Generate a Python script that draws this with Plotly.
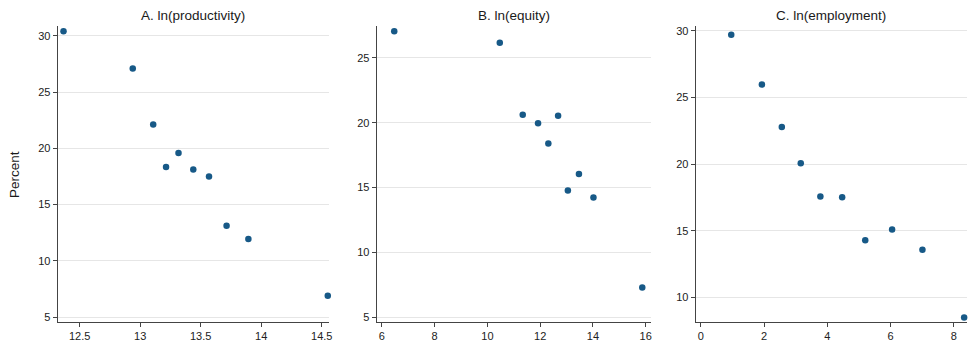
import plotly.graph_objects as go

prod_x = [12.367, 12.939, 13.108, 13.214, 13.317, 13.439, 13.569, 13.714, 13.894, 14.55]
prod_y = [30.41, 27.09, 22.12, 18.35, 19.59, 18.11, 17.50, 13.12, 11.94, 6.91]

eq_x = [6.47, 10.47, 11.34, 11.92, 12.31, 12.68, 13.05, 13.47, 14.02, 15.87]
eq_y = [27.06, 26.17, 20.61, 19.95, 18.39, 20.54, 14.77, 16.05, 14.23, 7.30]

emp_x = [0.96, 1.93, 2.56, 3.16, 3.78, 4.47, 5.20, 6.05, 7.01, 8.33]
emp_y = [29.70, 25.97, 22.78, 20.07, 17.56, 17.51, 14.28, 15.10, 13.58, 8.49]

titles = ["A. ln(productivity)", "B. ln(equity)", "C. ln(employment)"]
y_title = "Percent"

W, H = 970, 346
color = "#175987"

panels = [
    dict(x=prod_x, y=prod_y, dom=(58, 330), xr=(12.32, 14.56), yr=(4.56, 30.88),
         xt=[12.5, 13, 13.5, 14, 14.5], yt=[5, 10, 15, 20, 25, 30]),
    dict(x=eq_x, y=eq_y, dom=(378, 653), xr=(5.81, 16.2), yr=(4.62, 27.47),
         xt=[6, 8, 10, 12, 14, 16], yt=[5, 10, 15, 20, 25]),
    dict(x=emp_x, y=emp_y, dom=(698, 970), xr=(-0.16, 8.42), yr=(8.14, 30.37),
         xt=[0, 2, 4, 6, 8], yt=[10, 15, 20, 25, 30]),
]

ydom = [(H - 323) / H, (H - 25) / H]

fig = go.Figure()
layout = {}
annotations = []
for i, p in enumerate(panels):
    n = "" if i == 0 else str(i + 1)
    fig.add_trace(go.Scatter(
        x=p["x"], y=p["y"], mode="markers",
        marker=dict(color=color, size=6.5),
        xaxis="x" + n, yaxis="y" + n, showlegend=False, cliponaxis=False,
    ))
    common = dict(showline=True, linecolor="#444444", linewidth=1.3,
                  ticks="outside", ticklen=4, tickcolor="#444444",
                  tickfont=dict(family="Liberation Sans, Arial", size=11, color="#222222"),
                  zeroline=False)
    layout["xaxis" + n] = dict(domain=[p["dom"][0] / W, p["dom"][1] / W],
                               range=list(p["xr"]), tickvals=p["xt"],
                               showgrid=False, anchor="y" + n, **common)
    layout["yaxis" + n] = dict(domain=ydom, range=list(p["yr"]), tickvals=p["yt"],
                               showgrid=True, gridcolor="#e6e6e6", gridwidth=1,
                               anchor="x" + n, **common)
    annotations.append(dict(
        text=titles[i], x=(p["dom"][0] + p["dom"][1]) / 2 / W, y=(H - 15) / H,
        xref="paper", yref="paper", showarrow=False, xanchor="center", yanchor="middle",
        font=dict(family="Liberation Sans, Arial", size=13.5, color="#1a1a1a")))

annotations.append(dict(
    text=y_title, x=15 / W, y=(H - 174) / H, xref="paper", yref="paper",
    showarrow=False, textangle=-90, xanchor="center", yanchor="middle",
    font=dict(family="Liberation Sans, Arial", size=13.5, color="#1a1a1a")))

fig.update_layout(width=W, height=H, margin=dict(l=0, r=0, t=0, b=0),
                  paper_bgcolor="white", plot_bgcolor="white",
                  annotations=annotations, **layout)

fig.write_html("out.html")
